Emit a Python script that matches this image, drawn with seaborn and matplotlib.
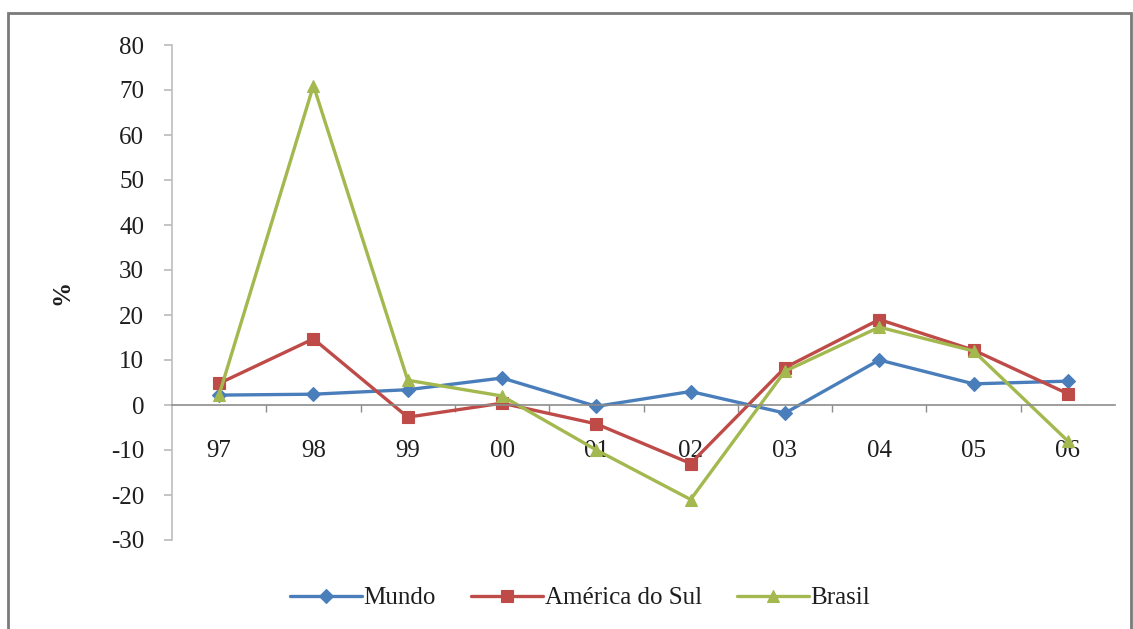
import numpy as np
import pandas as pd
import matplotlib
matplotlib.use("Agg")
import matplotlib.pyplot as plt
from matplotlib.patches import Rectangle
from matplotlib.ticker import FixedLocator
import seaborn as sns

# Annual growth (%) by region
years = ["97", "98", "99", "00", "01", "02", "03", "04", "05", "06"]
mundo = [2.2, 2.4, 3.4, 6.0, -0.3, 3.0, -1.8, 10.0, 4.7, 5.3]
america_do_sul = [4.8, 14.7, -2.7, 0.4, -4.2, -13.0, 8.3, 19.0, 12.2, 2.5]
brasil = [2.3, 71.0, 5.5, 2.0, -10.0, -21.0, 7.5, 17.3, 12.0, -8.0]
series_names = ["Mundo", "América do Sul", "Brasil"]
y_ticks = [-30, -20, -10, 0, 10, 20, 30, 40, 50, 60, 70, 80]

sns.set_theme(style="white")
plt.rcParams["font.family"] = ["Liberation Serif", "DejaVu Serif"]

df = pd.DataFrame({
    "pos": list(range(len(years))) * 3,
    "valor": mundo + america_do_sul + brasil,
    "serie": [s for s, vals in zip(series_names, [mundo, america_do_sul, brasil]) for _ in vals],
})

palette = {"Mundo": "#4A7EBB", "América do Sul": "#BE4B48", "Brasil": "#A3B84E"}
markers = {"Mundo": "D", "América do Sul": "s", "Brasil": "^"}
marker_sizes = {"Mundo": 7, "América do Sul": 9, "Brasil": 9}
FS = 18
TEXT_COLOR = "#1e1e1e"

fig = plt.figure(figsize=(11.33, 6.29), dpi=100)
ax = fig.add_axes([172 / 1133, 1 - 540 / 629, 943 / 1133, 495 / 629])

sns.lineplot(
    data=df, x="pos", y="valor", hue="serie", style="serie",
    palette=palette, markers=markers, dashes=False, markersize=9,
    linewidth=2.4, markeredgewidth=0.8, ax=ax, legend=True, sort=False,
)
for line, name in zip(ax.lines, series_names):
    line.set_markeredgecolor(line.get_color())
    line.set_markersize(marker_sizes[name])

ax.set_xlim(-0.5, len(years) - 0.5)
ax.set_ylim(-30, 80)
ax.set_yticks(y_ticks)
ax.set_yticklabels([str(v) for v in y_ticks], fontsize=FS)

# category axis crossing at zero
ax.spines["bottom"].set_position(("data", 0))
ax.spines["bottom"].set_color("#8c8c8c")
ax.spines["bottom"].set_linewidth(1.2)
ax.spines["left"].set_color("#bdbdbd")
ax.spines["left"].set_linewidth(1.2)
ax.spines["top"].set_visible(False)
ax.spines["right"].set_visible(False)

ax.set_xticks(range(len(years)))
ax.set_xticklabels(years, fontsize=FS)
ax.xaxis.set_minor_locator(FixedLocator(np.arange(0.5, len(years) - 0.5, 1.0)))
ax.tick_params(axis="x", which="major", length=0, pad=25)
ax.tick_params(axis="x", which="minor", length=5, color="#8c8c8c", direction="out", bottom=True)
ax.tick_params(axis="y", which="major", length=6, color="#bdbdbd", left=True, direction="out", pad=14)
for t in ax.get_xticklabels() + ax.get_yticklabels():
    t.set_color(TEXT_COLOR)

ax.set_xlabel("")
ax.set_ylabel("%", fontsize=FS, fontweight="bold", color=TEXT_COLOR)
ax.yaxis.set_label_coords(-0.105, 0.5)

handles, labels = ax.get_legend_handles_labels()
ax.get_legend().remove()
for h, name in zip(handles, labels):
    h.set_markersize(marker_sizes.get(name, 9))
    h.set_markeredgecolor(h.get_color())
leg = fig.legend(handles, labels, loc="center", bbox_to_anchor=(580 / 1133, 1 - 598 / 629),
                 ncol=3, frameon=False, fontsize=FS, handlelength=2.9, columnspacing=1.4,
                 handletextpad=0.05)
for t in leg.get_texts():
    t.set_color(TEXT_COLOR)

# outer chart frame
fig.patches.append(Rectangle((8 / 1133, -0.05), 1123 / 1133, 1.05 - 13 / 629,
                             transform=fig.transFigure, fill=False,
                             edgecolor="#7a7a7a", linewidth=2.0))

fig.savefig("out.png", dpi=100)
